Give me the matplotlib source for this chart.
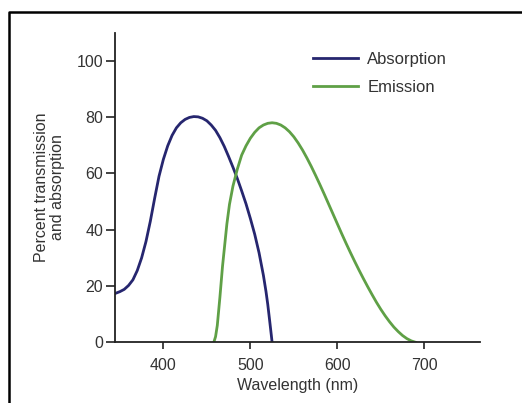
import matplotlib
matplotlib.use('Agg')
import matplotlib.pyplot as plt
from matplotlib.lines import Line2D

# Values (wavelength in nm, percent)
abs_nm  = [345, 350, 355, 360, 365, 370, 375, 380, 385, 390, 395, 400, 405,
           410, 415, 420, 425, 430, 435, 440, 445, 450, 455, 460, 465, 470,
           475, 480, 485, 490, 495, 500, 505, 510, 515, 518, 520, 522, 524, 525]
abs_val = [17.4, 18.0, 18.8, 20.2, 22.2, 25.5, 30.0, 35.8, 43.0, 51.2, 59.0,
           65.0, 69.8, 73.5, 76.2, 78.0, 79.2, 79.9, 80.2, 80.1, 79.6, 78.7,
           77.2, 75.3, 72.7, 69.6, 66.0, 62.2, 58.2, 53.8, 49.2, 44.0, 38.4,
           31.8, 23.8, 18.0, 13.5, 8.2, 2.8, 0.0]

em_nm  = [458, 460, 462, 465, 468, 470, 473, 476, 480, 485, 490, 495, 500,
          505, 510, 515, 520, 525, 530, 535, 540, 545, 550, 555, 560, 565,
          570, 575, 580, 585, 590, 595, 600, 605, 610, 615, 620, 625, 630,
          635, 640, 645, 650, 655, 660, 665, 670, 675, 680, 685, 690]
em_val = [0.0, 2.0, 6.0, 16.0, 27.0, 33.0, 42.0, 49.0, 55.5, 61.5, 66.5,
          69.8, 72.5, 74.6, 76.2, 77.2, 77.8, 78.0, 77.8, 77.2, 76.2, 74.8,
          73.0, 70.8, 68.3, 65.5, 62.5, 59.3, 56.0, 52.6, 49.1, 45.6, 42.1,
          38.6, 35.2, 31.9, 28.7, 25.6, 22.6, 19.7, 16.9, 14.2, 11.7, 9.4,
          7.3, 5.4, 3.8, 2.4, 1.3, 0.5, 0.0]

x_ticks = [400, 500, 600, 700]
y_ticks = [0, 20, 40, 60, 80, 100]

plt.rcParams['font.family'] = ['Liberation Sans', 'DejaVu Sans']
txt = '#333333'

fig = plt.figure(figsize=(5.22, 4.03), dpi=100)
ax = fig.add_axes([115/522, 1-342.3/403, (480-115)/522, (342.3-32.7)/403])

ax.plot(abs_nm, abs_val, color='#26266f', lw=2.0, label='Absorption')
ax.plot(em_nm, em_val, color='#5fa046', lw=2.0, label='Emission')

ax.set_xlim(344.4, 764)
ax.set_ylim(0, 110)
ax.set_xticks(x_ticks)
ax.set_yticks(y_ticks)
for s in ['top', 'right']:
    ax.spines[s].set_visible(False)
for s in ['left', 'bottom']:
    ax.spines[s].set_color('#222222')
    ax.spines[s].set_linewidth(1.3)
ax.tick_params(direction='out', width=1.2, color='#222222',
               labelsize=11.5, labelcolor=txt)
ax.tick_params(axis='x', length=5, pad=6)
ax.tick_params(axis='y', length=6.5, pad=2)

ax.set_xlabel('Wavelength (nm)', fontsize=11.5, color=txt, labelpad=4)
ax.set_ylabel('Percent transmission\nand absorption', fontsize=11.5, color=txt,
              labelpad=8, linespacing=1.1)

ax.legend(loc='upper left', bbox_to_anchor=(313/522, 1-52/403),
          bbox_transform=fig.transFigure, frameon=False, fontsize=12,
          borderpad=0, borderaxespad=0, handlelength=2.7, handletextpad=0.55,
          labelspacing=0.8, labelcolor=txt)

# black picture frame on top and left
fig.add_artist(Line2D([9/522, 9/522, 1.0], [0.0, 1-12/403, 1-12/403],
                      transform=fig.transFigure, color='black', lw=1.8))

fig.savefig('out.png', dpi=100)
